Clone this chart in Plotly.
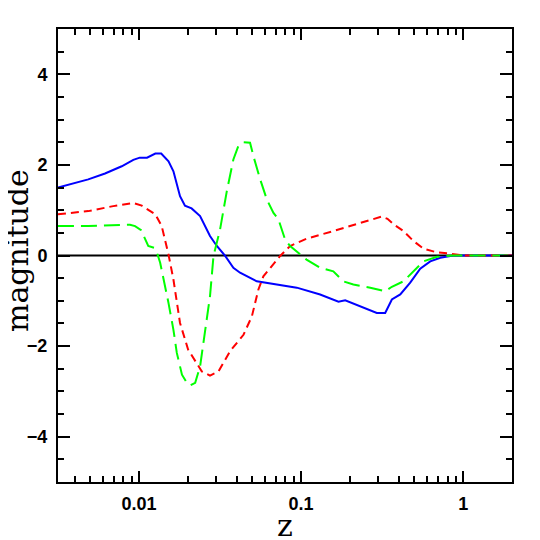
import plotly.graph_objects as go

# curves (z on a log axis, magnitude)
z_blue = [0.00316, 0.00486, 0.00617, 0.00782, 0.00922, 0.0101, 0.0112, 0.0126, 0.0137, 0.0152,
          0.0163, 0.0179, 0.0192, 0.0211, 0.0238, 0.0274, 0.0302, 0.0340, 0.0382, 0.0420,
          0.0533, 0.0742, 0.094, 0.131, 0.170, 0.187, 0.231, 0.293, 0.330, 0.363,
          0.409, 0.471, 0.543, 0.626, 0.722, 0.867, 1.1, 2.0]
m_blue = [1.50, 1.68, 1.81, 1.97, 2.11, 2.16, 2.16, 2.25, 2.25, 2.08,
          1.86, 1.31, 1.10, 1.04, 0.87, 0.43, 0.21, -0.01, -0.27, -0.38,
          -0.57, -0.66, -0.71, -0.86, -1.02, -0.99, -1.12, -1.27, -1.27, -0.97,
          -0.86, -0.60, -0.29, -0.13, -0.05, 0.0, 0.0, 0.0]

z_red = [0.00316, 0.00486, 0.00693, 0.00922, 0.0104, 0.0126, 0.0138, 0.0152, 0.0163, 0.0179,
         0.0201, 0.0244, 0.0274, 0.0309, 0.0365, 0.0441, 0.0497, 0.0545, 0.0585, 0.0742,
         0.0855, 0.108, 0.158, 0.221, 0.315, 0.341, 0.371, 0.428, 0.493, 0.569,
         0.688, 0.832, 1.0, 2.0]
m_red = [0.91, 0.98, 1.09, 1.16, 1.10, 0.91, 0.65, 0.02, -0.53, -1.49,
         -2.08, -2.56, -2.65, -2.56, -2.11, -1.75, -1.34, -0.75, -0.46, -0.01,
         0.21, 0.37, 0.54, 0.69, 0.86, 0.81, 0.69, 0.54, 0.32, 0.15,
         0.07, 0.04, 0.0, 0.0]

z_green = [0.00316, 0.00486, 0.0088, 0.00945, 0.0103, 0.0109, 0.0114, 0.0124, 0.0128, 0.0135,
           0.0141, 0.0152, 0.0163, 0.0171, 0.0184, 0.0197, 0.0206, 0.0222, 0.0238, 0.0255,
           0.0274, 0.0288, 0.0316, 0.0348, 0.0382, 0.0410, 0.0441, 0.0484, 0.0508, 0.0559,
           0.0614, 0.0675, 0.0724, 0.0797, 0.0855, 0.108, 0.131, 0.158, 0.182, 0.210,
           0.267, 0.330, 0.363, 0.428, 0.493, 0.569, 0.688, 0.87, 1.0, 2.0]
m_green = [0.65, 0.65, 0.68, 0.65, 0.56, 0.35, 0.21, 0.17, 0.10, -0.16,
           -0.46, -1.05, -1.64, -2.15, -2.63, -2.81, -2.87, -2.81, -2.45, -1.71,
           -0.90, -0.01, 0.57, 1.42, 2.12, 2.42, 2.50, 2.49, 2.19, 1.68,
           1.24, 0.94, 0.80, 0.35, 0.21, -0.09, -0.27, -0.35, -0.57, -0.64,
           -0.71, -0.79, -0.69, -0.57, -0.35, -0.13, -0.03, 0.0, 0.0, 0.0]

x_ticks = [0.01, 0.1, 1]
x_ticktext = ["0.01", "0.1", "1"]
x_minor = [k * 10.0 ** p for p in (-3, -2, -1, 0) for k in range(2, 10)]

fig = go.Figure()
fig.add_trace(go.Scatter(x=z_blue, y=m_blue, mode="lines",
                         line=dict(color="#0000ff", width=2)))
fig.add_trace(go.Scatter(x=z_red, y=m_red, mode="lines",
                         line=dict(color="#ff0000", width=2, dash="8px,5px")))
fig.add_trace(go.Scatter(x=z_green, y=m_green, mode="lines",
                         line=dict(color="#00ff00", width=2, dash="16px,7px")))

# zero reference line
fig.add_hline(y=0, line=dict(color="black", width=2), layer="below")

axis_common = dict(showline=True, linecolor="black", linewidth=2, mirror="allticks",
                   ticks="inside", tickcolor="black", tickwidth=2, showgrid=False,
                   zeroline=False,
                   tickfont=dict(family="Liberation Sans", size=18, color="black", weight="bold"))

fig.update_xaxes(type="log", range=[-2.5, 0.30103], tickvals=x_ticks, ticktext=x_ticktext,
                 ticklen=11, ticklabelstandoff=4,
                 minor=dict(tickvals=x_minor, ticks="inside", ticklen=6,
                            tickcolor="black", tickwidth=2, showgrid=False),
                 **axis_common)
fig.update_yaxes(range=[-5, 5], tickvals=[-4, -2, 0, 2, 4], ticklen=12, ticklabelstandoff=5,
                 minor=dict(dtick=0.5, ticks="inside", ticklen=6,
                            tickcolor="black", tickwidth=2, showgrid=False),
                 **axis_common)

fig.add_annotation(text="magnitude", textangle=-90, xref="paper", yref="paper",
                   x=-0.088, y=0.51, xanchor="center", yanchor="middle", showarrow=False,
                   font=dict(family="DejaVu Serif", size=30, color="black"))
fig.add_annotation(text="z", xref="paper", yref="paper", x=0.5, y=-0.097,
                   xanchor="center", yanchor="middle", showarrow=False,
                   font=dict(family="DejaVu Serif", size=30, color="black"))

# page body adds an 8px offset, so the figure is 532px with shifted margins
fig.update_layout(width=532, height=532, showlegend=False,
                  margin=dict(l=50, r=28, t=21, b=58),
                  plot_bgcolor="white", paper_bgcolor="white")

fig.write_html("out.html")
